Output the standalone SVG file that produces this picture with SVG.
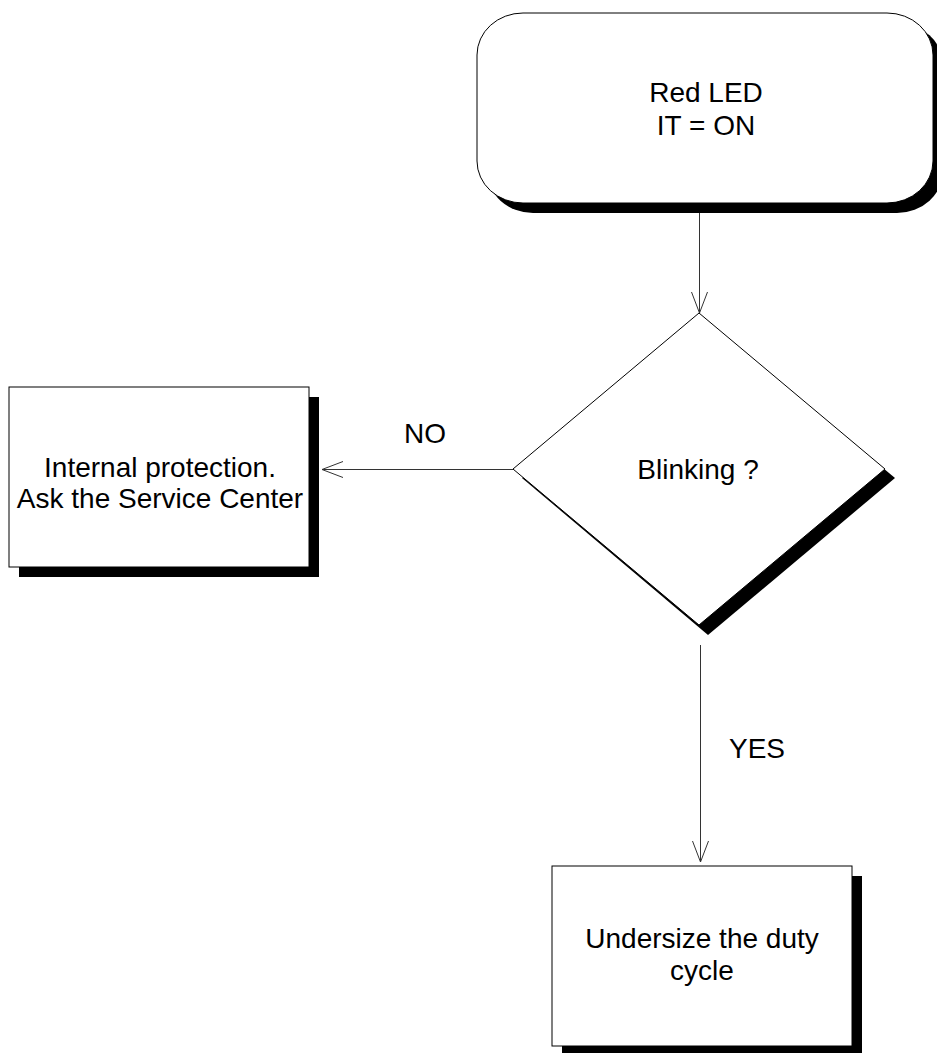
<svg xmlns="http://www.w3.org/2000/svg" width="937" height="1053" viewBox="0 0 937 1053">
<style>
.shape{fill:#fff;stroke:#000;stroke-width:1}
.shadow{fill:#000;stroke:none}
.lbl{font-family:"Liberation Sans",Arial,sans-serif;font-size:28px;fill:#000;text-anchor:middle}
.conn{fill:none;stroke:#333;stroke-width:1}
</style>
<defs>
<marker id="arr" markerUnits="userSpaceOnUse" markerWidth="24" markerHeight="20" refX="21" refY="8" orient="auto">
<path d="M0,0 L21,8 L0,16" fill="none" stroke="#333" stroke-width="1"/>
</marker>
</defs>
<g id="node-start">
<rect class="shadow" x="487" y="23" width="456" height="190" rx="46" ry="42"/>
<rect class="shape" x="477" y="13" width="456" height="190" rx="46" ry="42"/>
<text class="lbl" x="706" y="102">Red LED</text>
<text class="lbl" x="706" y="135">IT = ON</text>
</g>
<g id="node-decision">
<polygon class="shadow" points="708,322 895,478 708,635 522,478"/>
<polygon class="shape" points="699,313 885,469 699,625 513,469"/>
<text class="lbl" x="698" y="479">Blinking ?</text>
</g>
<g id="node-service">
<rect class="shadow" x="19" y="397" width="300" height="180"/>
<rect class="shape" x="9" y="387" width="300" height="180"/>
<text class="lbl" x="160" y="477">Internal protection.</text>
<text class="lbl" x="160" y="508">Ask the Service Center</text>
</g>
<g id="node-undersize">
<rect class="shadow" x="562" y="876" width="300" height="180"/>
<rect class="shape" x="552" y="866" width="300" height="180"/>
<text class="lbl" x="702" y="948">Undersize the duty</text>
<text class="lbl" x="702" y="980">cycle</text>
</g>
<g id="connectors">
<line class="conn" x1="699.5" y1="213" x2="699.5" y2="313" marker-end="url(#arr)"/>
<line class="conn" x1="513" y1="469.5" x2="322" y2="469.5" marker-end="url(#arr)"/>
<line class="conn" x1="700.5" y1="645" x2="700.5" y2="862" marker-end="url(#arr)"/>
<text class="lbl" x="425" y="443">NO</text>
<text class="lbl" x="757" y="758">YES</text>
</g>
</svg>
